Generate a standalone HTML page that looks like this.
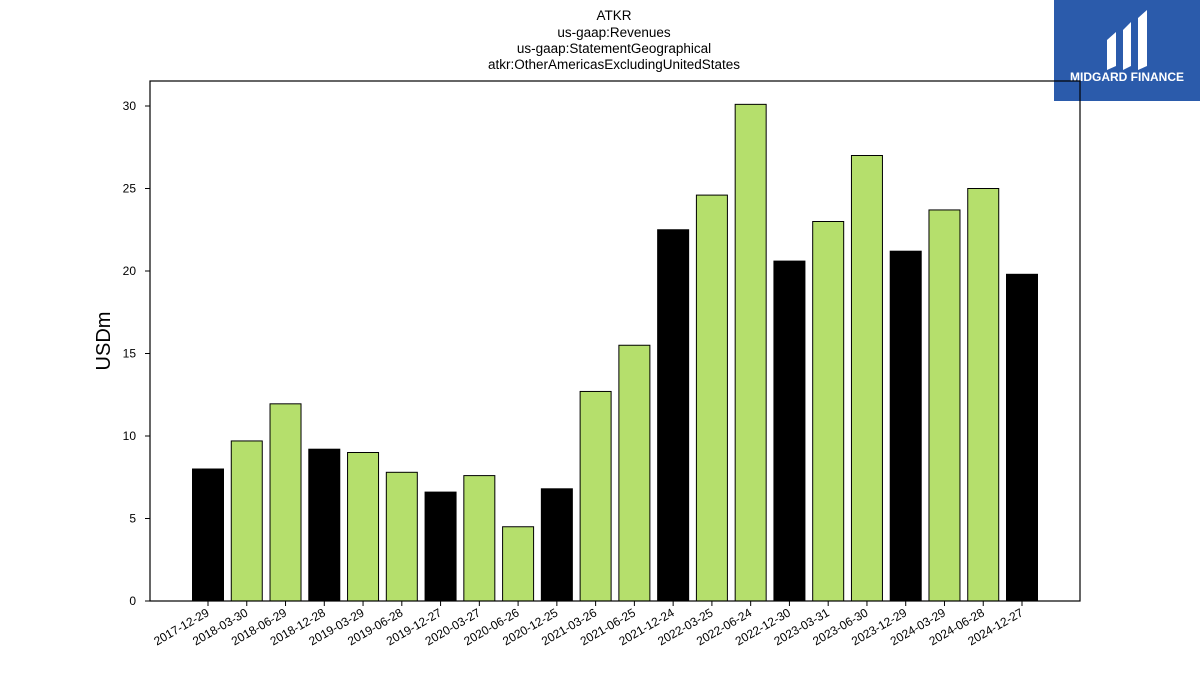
<!DOCTYPE html>
<html><head><meta charset="utf-8"><style>
body{margin:0;background:#fff;width:1200px;height:675px;overflow:hidden;font-family:"Liberation Sans","DejaVu Sans",sans-serif}
</style></head><body>
<svg width="1200" height="675" xmlns="http://www.w3.org/2000/svg">
<g font-size="13.5" text-anchor="middle" fill="#000">
<text x="614" y="20">ATKR</text>
<text x="614" y="37">us-gaap:Revenues</text>
<text x="614" y="53">us-gaap:StatementGeographical</text>
<text x="614" y="69">atkr:OtherAmericasExcludingUnitedStates</text>
</g>
<g>
<rect x="1054" y="0" width="146" height="101" fill="#2b5bab"/>
<path d="M1107 40 L1116 32 L1116 66 L1107 70 Z M1123 30 L1131 22 L1131 66 L1123 70 Z M1138 18 L1147 10 L1147 66 L1138 70 Z" fill="#fff"/>
<text x="1127" y="81" font-size="12" font-weight="bold" fill="#fff" text-anchor="middle">MIDGARD FINANCE</text>
</g>
<g id="bars"></g>
<g id="axes"></g>
<text x="110" y="341" font-size="20" text-anchor="middle" transform="rotate(-90 110 341)">USDm</text>
</svg>
<script>
const categories=["2017-12-29","2018-03-30","2018-06-29","2018-12-28","2019-03-29","2019-06-28","2019-12-27","2020-03-27","2020-06-26","2020-12-25","2021-03-26","2021-06-25","2021-12-24","2022-03-25","2022-06-24","2022-12-30","2023-03-31","2023-06-30","2023-12-29","2024-03-29","2024-06-28","2024-12-27"];
const values=[8.0,9.7,11.95,9.2,9.0,7.8,6.6,7.6,4.5,6.8,12.7,15.5,22.5,24.6,30.1,20.6,23.0,27.0,21.2,23.7,25.0,19.8];
const yTicks=[0,5,10,15,20,25,30];
const NS="http://www.w3.org/2000/svg";
const x0=150,x1=1080,yTop=81,yBot=601;
const y=v=>601-v*16.5;
const xc=i=>208+i*(1022-208)/(categories.length-1);
const bw=31;
const bars=document.getElementById('bars'),axes=document.getElementById('axes');
function mk(t,a,p){const e=document.createElementNS(NS,t);for(const k in a)e.setAttribute(k,a[k]);p.appendChild(e);return e;}
categories.forEach((c,i)=>{
 const q4=c.slice(5,7)==="12";
 const r=mk('rect',{x:xc(i)-bw/2,y:y(values[i]),width:bw,height:y(0)-y(values[i]),fill:q4?"#000":"#b5df6c",stroke:"#000","stroke-width":1},bars);
 
 
 mk('line',{x1:xc(i),x2:xc(i),y1:yBot,y2:yBot+5,stroke:"#000"},axes);
 const t=mk('text',{x:xc(i)+2,y:yBot+14,"font-size":12,"text-anchor":"end",transform:`rotate(-30 ${xc(i)+2} ${yBot+14})`},axes);
 t.textContent=c;
 
 
});
yTicks.forEach(v=>{
 mk('line',{x1:x0-5,x2:x0,y1:y(v),y2:y(v),stroke:"#000"},axes);
 const t=mk('text',{x:x0-14,y:y(v)+4,"font-size":12,"text-anchor":"end"},axes);
 t.textContent=v;
 
 
});
const f=mk('rect',{x:x0,y:yTop,width:x1-x0,height:yBot-yTop,fill:"none",stroke:"#000","stroke-width":1.2},axes);


</script>
</body></html>
